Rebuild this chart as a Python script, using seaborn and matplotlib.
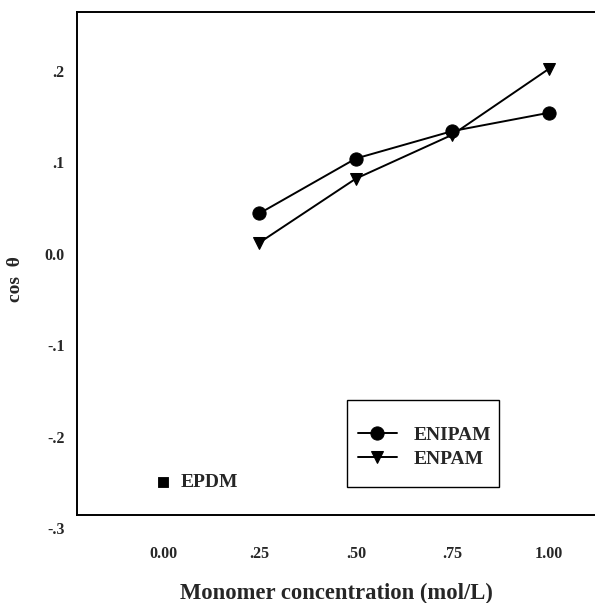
import numpy as np
import pandas as pd
import matplotlib
matplotlib.use("Agg")
import matplotlib.pyplot as plt
import matplotlib.transforms as mtransforms
from matplotlib.patches import Rectangle
import seaborn as sns

# Data
conc = [0.25, 0.50, 0.75, 1.00]
enipam = [0.030, 0.090, 0.120, 0.140]
enpam = [-0.002, 0.068, 0.116, 0.188]
epdm_x = [0.0]
epdm_y = [-0.264]

x_ticks = [0.0, 0.25, 0.50, 0.75, 1.00]
x_labels = ["0.00", ".25", ".50", ".75", "1.00"]
y_ticks = [0.2, 0.1, 0.0, -0.1, -0.2, -0.3]
y_labels = [".2", ".1", "0.0", "-.1", "-.2", "-.3"]

sns.set_style("white")
plt.rcParams["font.family"] = ["Liberation Serif", "DejaVu Serif"]
plt.rcParams["font.weight"] = "bold"

W, H = 595, 603
fig = plt.figure(figsize=(W / 100, H / 100), dpi=100)
ax = fig.add_axes([77 / W, 1 - 515 / H, 1 - 77 / W, (515 - 12) / H])

df = pd.DataFrame({"conc": conc, "ENIPAM": enipam, "ENPAM": enpam})

# triangles first so the circles sit on top where the series meet
sns.lineplot(data=df, x="conc", y="ENPAM", ax=ax, color="black", lw=1.4,
             marker="v", markersize=9, markeredgecolor="black",
             label="ENPAM")
sns.lineplot(data=df, x="conc", y="ENIPAM", ax=ax, color="black", lw=1.4,
             marker="o", markersize=9.5, markeredgecolor="black",
             label="ENIPAM")
sns.scatterplot(x=epdm_x, y=epdm_y, ax=ax, color="black", marker="s", s=60,
                edgecolor="black")
ax.text(0.045, epdm_y[0], "EPDM", fontsize=14, fontweight="bold",
        va="center", ha="left")

ax.set_xlim(-0.223, 1.12)
ax.set_ylim(-0.3, 0.2503)
ax.set_xticks(x_ticks)
ax.set_xticklabels(x_labels)
ax.set_yticks(y_ticks)
ax.set_yticklabels(y_labels)
ax.tick_params(axis="x", direction="out", length=4, width=0.8, color="0.4",
               pad=18, labelsize=11.5)
ax.tick_params(axis="y", direction="out", length=3, width=0.8, color="0.4",
               pad=6, labelsize=11.5)
for lab in ax.get_yticklabels():
    lab.set_verticalalignment("top")
    lab.set_transform(lab.get_transform() +
                      mtransforms.ScaledTranslation(0, -5 / 72, fig.dpi_scale_trans))
for lab in ax.get_xticklabels() + ax.get_yticklabels():
    lab.set_fontweight("bold")

for side in ["left", "bottom", "top"]:
    ax.spines[side].set_color("black")
    ax.spines[side].set_linewidth(1.4)
ax.spines["right"].set_visible(False)

ax.set_xlabel("Monomer concentration (mol/L)", fontsize=16.3, fontweight="bold")
ax.xaxis.set_label_coords(0.5, -0.135)
ax.set_ylabel("cos  θ", fontsize=14, fontweight="bold")
ax.yaxis.set_label_coords(-0.103, 0.47)

# legend entries without frame, boxed by a plain rectangle as in the figure
handles, labels = ax.get_legend_handles_labels()
order = [labels.index("ENIPAM"), labels.index("ENPAM")]
leg = ax.legend([handles[i] for i in order], [labels[i] for i in order],
                loc="upper left", bbox_to_anchor=(358 / W, 1 - 426 / H),
                bbox_transform=fig.transFigure, frameon=False, fontsize=14,
                handlelength=2.0, handletextpad=0.85, labelspacing=0.35,
                borderpad=0, borderaxespad=0)
for t in leg.get_texts():
    t.set_fontweight("bold")
fig.patches.append(Rectangle((347 / W, 1 - 487 / H), 152 / W, 87 / H,
                             transform=fig.transFigure, fill=False,
                             edgecolor="black", linewidth=1.0, zorder=5))

fig.savefig("out.png", dpi=100)
